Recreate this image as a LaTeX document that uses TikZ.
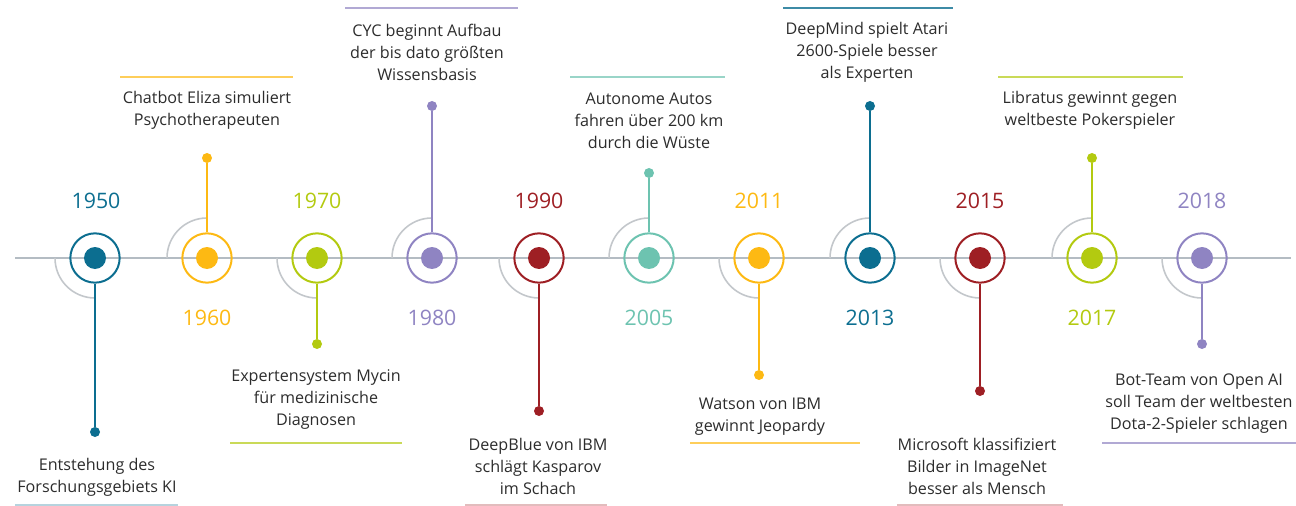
\documentclass[tikz,border=0pt]{standalone}
\usepackage{fontspec}
\setmainfont{Open Sans}
\definecolor{kiblue}{HTML}{0C6E90}
\definecolor{kiyellow}{HTML}{FDB913}
\definecolor{kigreen}{HTML}{B3CA10}
\definecolor{kipurple}{HTML}{8F84C2}
\definecolor{kired}{HTML}{9E1F24}
\definecolor{kiteal}{HTML}{6DC3B0}
\definecolor{kiaxis}{HTML}{B4BCC3}
\definecolor{kiarc}{HTML}{C3C7CB}
\definecolor{kitext}{HTML}{2C2C2C}
\begin{document}
\begin{tikzpicture}[x=0.75pt, y=0.75pt,
        ring/.style={circle, draw=#1, line width=1.5pt, minimum size=37pt, inner sep=0pt},
        core/.style={circle, fill=#1, minimum size=16.5pt, inner sep=0pt},
        tip/.style={circle, fill=#1, minimum size=7.5pt, inner sep=0pt},
        stem/.style={draw=#1, line width=1.5pt},
        year/.style={text=#1, font=\fontsize{16}{18}\selectfont},
        caption/.style={text=kitext, align=center, font=\fontsize{12.1}{16.5}\selectfont},
        bar/.style={draw=#1, line width=1.5pt},
        quarter/.style={draw=kiarc, line width=1.2pt}]
        \useasboundingbox (0, 0) rectangle (1296, -506);

        \coordinate (start) at (15, -258);
        \coordinate (end) at (1291, -258);
        \draw[kiaxis, line width=2pt] (start) -- (end);

        \node[ring=kiblue] (r1950) at (95, -258) {};
        \node[ring=kiyellow] (r1960) at (207, -258) {};
        \node[ring=kigreen] (r1970) at (317, -258) {};
        \node[ring=kipurple] (r1980) at (432, -258) {};
        \node[ring=kired] (r1990) at (539, -258) {};
        \node[ring=kiteal] (r2005) at (649, -258) {};
        \node[ring=kiyellow] (r2011) at (759, -258) {};
        \node[ring=kiblue] (r2013) at (870, -258) {};
        \node[ring=kired] (r2015) at (980, -258) {};
        \node[ring=kigreen] (r2017) at (1092, -258) {};
        \node[ring=kipurple] (r2018) at (1202, -258) {};

        \node[core=kiblue] (c1950) at (r1950) {};
        \node[core=kiyellow] (c1960) at (r1960) {};
        \node[core=kigreen] (c1970) at (r1970) {};
        \node[core=kipurple] (c1980) at (r1980) {};
        \node[core=kired] (c1990) at (r1990) {};
        \node[core=kiteal] (c2005) at (r2005) {};
        \node[core=kiyellow] (c2011) at (r2011) {};
        \node[core=kiblue] (c2013) at (r2013) {};
        \node[core=kired] (c2015) at (r2015) {};
        \node[core=kigreen] (c2017) at (r2017) {};
        \node[core=kipurple] (c2018) at (r2018) {};

        \draw[quarter] (r1950.center) ++(180:40) arc[start angle=180, end angle=270, radius=40];
        \draw[quarter] (r1960.center) ++(90:40) arc[start angle=90, end angle=180, radius=40];
        \draw[quarter] (r1970.center) ++(180:40) arc[start angle=180, end angle=270, radius=40];
        \draw[quarter] (r1980.center) ++(90:40) arc[start angle=90, end angle=180, radius=40];
        \draw[quarter] (r1990.center) ++(180:40) arc[start angle=180, end angle=270, radius=40];
        \draw[quarter] (r2005.center) ++(90:40) arc[start angle=90, end angle=180, radius=40];
        \draw[quarter] (r2011.center) ++(180:40) arc[start angle=180, end angle=270, radius=40];
        \draw[quarter] (r2013.center) ++(90:40) arc[start angle=90, end angle=180, radius=40];
        \draw[quarter] (r2015.center) ++(180:40) arc[start angle=180, end angle=270, radius=40];
        \draw[quarter] (r2017.center) ++(90:40) arc[start angle=90, end angle=180, radius=40];
        \draw[quarter] (r2018.center) ++(180:40) arc[start angle=180, end angle=270, radius=40];

        \node[tip=kiblue] (e1950) at (95, -432) {};
        \node[tip=kiyellow] (e1960) at (207, -158) {};
        \node[tip=kigreen] (e1970) at (317, -344) {};
        \node[tip=kipurple] (e1980) at (432, -106) {};
        \node[tip=kired] (e1990) at (539, -411) {};
        \node[tip=kiteal] (e2005) at (649, -173) {};
        \node[tip=kiyellow] (e2011) at (759, -375) {};
        \node[tip=kiblue] (e2013) at (870, -106) {};
        \node[tip=kired] (e2015) at (980, -391) {};
        \node[tip=kigreen] (e2017) at (1092, -158) {};
        \node[tip=kipurple] (e2018) at (1202, -344) {};

        \draw[stem=kiblue] (r1950) -- (e1950);
        \draw[stem=kiyellow] (r1960) -- (e1960);
        \draw[stem=kigreen] (r1970) -- (e1970);
        \draw[stem=kipurple] (r1980) -- (e1980);
        \draw[stem=kired] (r1990) -- (e1990);
        \draw[stem=kiteal] (r2005) -- (e2005);
        \draw[stem=kiyellow] (r2011) -- (e2011);
        \draw[stem=kiblue] (r2013) -- (e2013);
        \draw[stem=kired] (r2015) -- (e2015);
        \draw[stem=kigreen] (r2017) -- (e2017);
        \draw[stem=kipurple] (r2018) -- (e2018);

        \node[year=kiblue] (l1950) at (96, -201) {1950};
        \node[year=kiyellow] (l1960) at (207, -318) {1960};
        \node[year=kigreen] (l1970) at (317, -201) {1970};
        \node[year=kipurple] (l1980) at (432, -318) {1980};
        \node[year=kired] (l1990) at (539, -201) {1990};
        \node[year=kiteal] (l2005) at (649, -318) {2005};
        \node[year=kiyellow] (l2011) at (759, -201) {2011};
        \node[year=kiblue] (l2013) at (870, -318) {2013};
        \node[year=kired] (l2015) at (980, -201) {2015};
        \node[year=kigreen] (l2017) at (1092, -318) {2017};
        \node[year=kipurple] (l2018) at (1202, -201) {2018};

        \node[caption] (t1950) at (97, -477) {Entstehung des\\Forschungsgebiets KI};
        \node[caption] (t1960) at (207, -110) {Chatbot Eliza simuliert\\Psychotherapeuten};
        \node[caption] (t1970) at (316, -400) {Expertensystem Mycin\\für medizinische\\Diagnosen};
        \node[caption] (t1980) at (427, -52) {CYC beginnt Aufbau\\der bis dato größten\\Wissensbasis};
        \node[caption] (t1990) at (538, -466) {DeepBlue von IBM\\schlägt Kasparov\\im Schach};
        \node[caption] (t2005) at (649, -121) {Autonome Autos\\fahren über 200 km\\durch die Wüste};
        \node[caption] (t2011) at (760, -416.5) {Watson von IBM\\gewinnt Jeopardy};
        \node[caption] (t2013) at (867, -52) {DeepMind spielt Atari\\2600-Spiele besser\\als Experten};
        \node[caption] (t2015) at (977, -466) {Microsoft klassifiziert\\Bilder in ImageNet\\besser als Mensch};
        \node[caption] (t2017) at (1090, -110) {Libratus gewinnt gegen\\weltbeste Pokerspieler};
        \node[caption] (t2018) at (1199, -404) {Bot-Team von Open AI\\soll Team der weltbesten\\Dota-2-Spieler schlagen};

        \draw[bar=kiblue!30] (15, -505) -- (178, -505);
        \draw[bar=kiyellow!70] (120, -77) -- (293, -77);
        \draw[bar=kigreen!70] (230, -443) -- (402, -443);
        \draw[bar=kipurple!70] (345, -8) -- (518, -8);
        \draw[bar=kired!30] (465, -505) -- (607, -505);
        \draw[bar=kiteal!70] (570, -77) -- (725, -77);
        \draw[bar=kiyellow!70] (690, -443) -- (860, -443);
        \draw[bar=kiblue!80] (783, -8) -- (953, -8);
        \draw[bar=kired!30] (897, -505) -- (1063, -505);
        \draw[bar=kigreen!70] (998, -77) -- (1183, -77);
        \draw[bar=kipurple!70] (1102, -443) -- (1296, -443);
    \end{tikzpicture}
\end{document}
